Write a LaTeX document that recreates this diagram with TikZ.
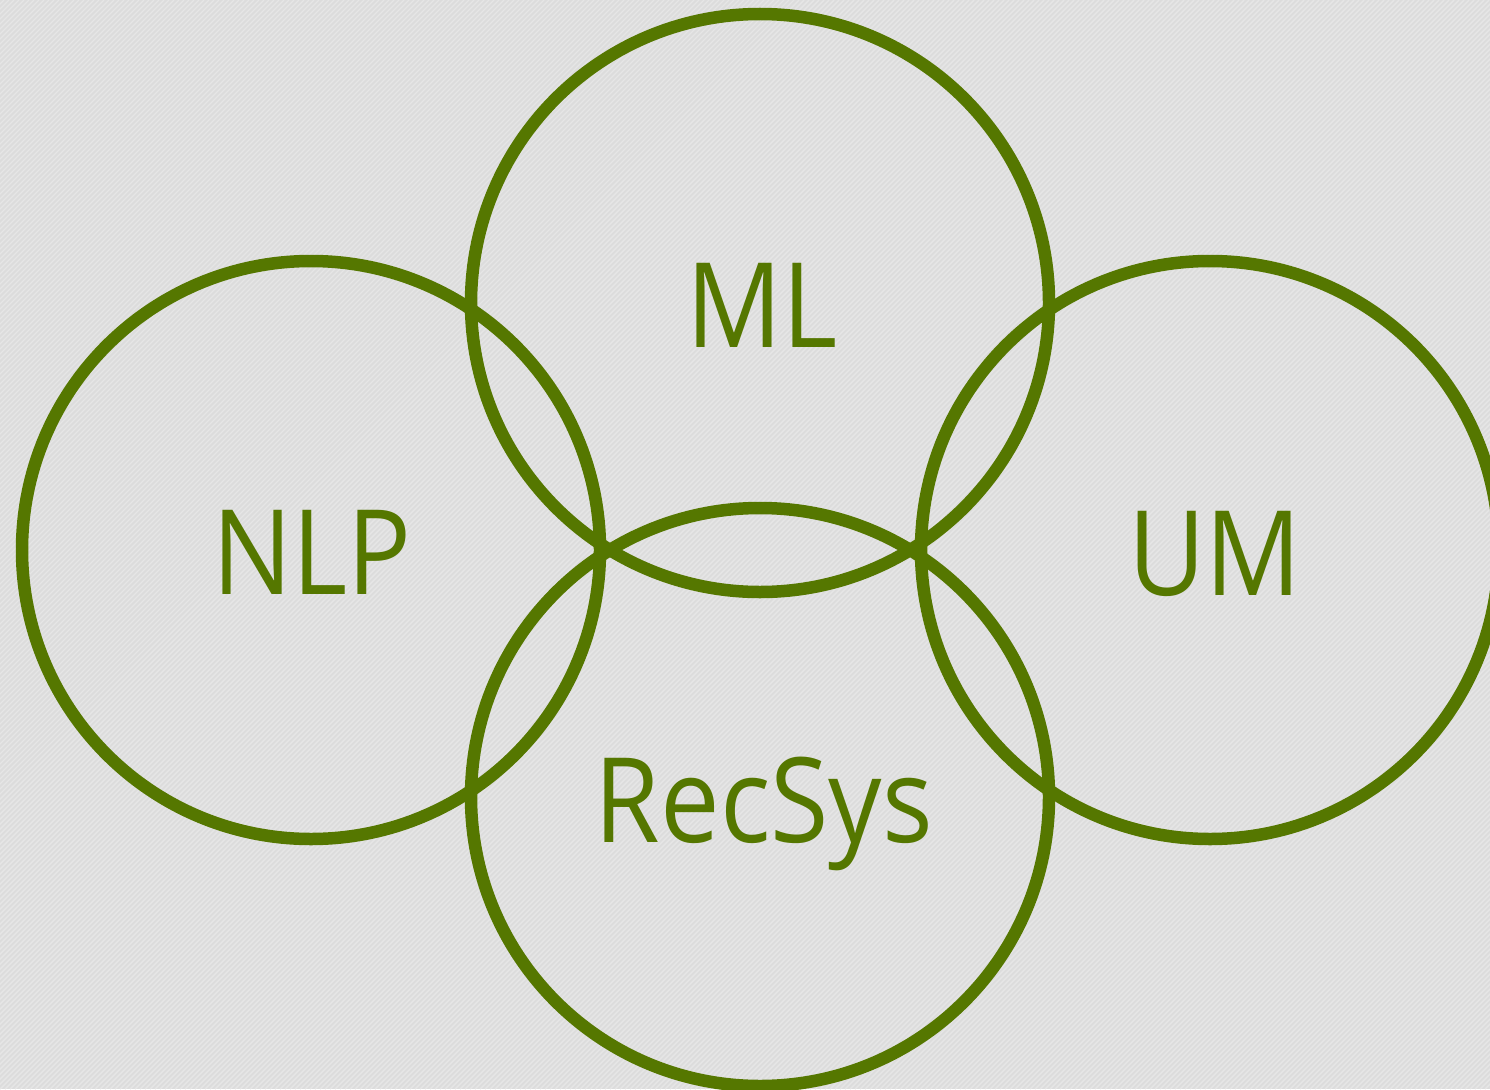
\documentclass[tikz,border=0pt]{standalone}
\usepackage{fontspec}
\setmainfont{Open Sans}[FakeStretch=0.9]
\definecolor{bggray}{HTML}{DCDCDC}
\definecolor{stripegray}{HTML}{E6E6E6}
\definecolor{vgreen}{HTML}{557700}
\tikzset{
  ring/.style={draw=vgreen, line width=12.5pt},
  lbl/.style={text=vgreen, anchor=base, inner sep=0pt, font=\fontsize{118}{120}\selectfont},
  stripe/.style={draw=stripegray, line width=1.4pt},
}
\begin{document}
\begin{tikzpicture}[x=1pt,y=-1pt]
\useasboundingbox (0,0) rectangle (1490,1089);
\fill[bggray] (0,0) rectangle (1490,1089);
\begin{scope}
\clip (0,0) rectangle (1490,1089);
\foreach \i in {-1100,-1095,...,1500} {
  \draw[stripe] (\i,1089) -- ++(1089,-1089);
}
\coordinate (cML) at (760,303);
\coordinate (cRS) at (760,797);
\coordinate (cNLP) at (311,550);
\coordinate (cUM) at (1210,550);
\draw[ring] (cML) circle[radius=289];
\draw[ring] (cRS) circle[radius=289];
\draw[ring] (cNLP) circle[radius=289];
\draw[ring] (cUM) circle[radius=289];
\end{scope}
\node[lbl] (ml) at (762,347) {ML};
\node[lbl] (nlp) at (312,594) {NLP};
\node[lbl] (um) at (1215,595) {UM};
\node[lbl] (recsys) at (764,842) {RecSys};
\end{tikzpicture}
\end{document}
